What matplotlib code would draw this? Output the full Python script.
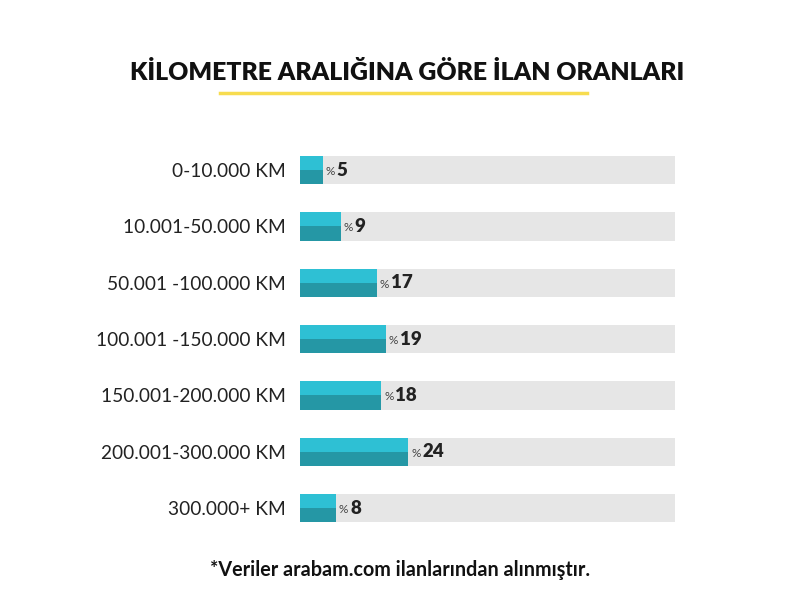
import matplotlib.pyplot as plt

# Kilometre ranges and listing shares (%)
categories = ["0-10.000 KM", "10.001-50.000 KM", "50.001 -100.000 KM",
              "100.001 -150.000 KM", "150.001-200.000 KM",
              "200.001-300.000 KM", "300.000+ KM"]
values = [5, 9, 17, 19, 18, 24, 8]
full_scale = 83

light = "#2ec0d4"
dark = "#2597a5"
track = "#e6e6e6"

fig = plt.figure(figsize=(8, 6), dpi=100)
ax = fig.add_axes([0.375, 0.1063, 0.46875, 0.657])

ys = list(range(len(values)))
h = 0.5
ax.barh(ys, [full_scale] * len(values), height=h, color=track, left=0)
ax.barh([y - h / 4 for y in ys], values, height=h / 2, color=light)
ax.barh([y + h / 4 for y in ys], values, height=h / 2, color=dark)

for y, v in zip(ys, values):
    ax.annotate("%", (v, y), xytext=(2, -1), textcoords="offset points",
                ha="left", va="center", fontsize=8.5, color="#444444",
                family="Lato")
    ax.annotate(str(v), (v, y), xytext=(10, 0), textcoords="offset points",
                ha="left", va="center", fontsize=13.5, fontweight="heavy",
                color="#222222", family="Lato")

ax.set_xlim(0, full_scale)
ax.set_ylim(len(values) - 0.5, -0.5)
ax.set_yticks(ys)
ax.set_yticklabels(categories, fontsize=13.8, family="Lato", color="#222222")
ax.tick_params(axis="y", length=0, pad=10)
ax.set_xticks([])
for s in ax.spines.values():
    s.set_visible(False)

fig.text(0.509, 0.88, "KİLOMETRE ARALIĞINA GÖRE İLAN ORANLARI", ha="center",
         va="center", fontsize=17.8, fontweight="heavy", family="Lato",
         color="#111111")
fig.add_artist(plt.Line2D([220 / 800, 587 / 800], [1 - 93 / 600, 1 - 93 / 600],
                          color="#f7dc4f", linewidth=2.5))
fig.text(0.5, 1 - 570 / 600, "*Veriler arabam.com ilanlarından alınmıştır.",
         ha="center", va="center", fontsize=14.2, fontweight="bold",
         family="Lato", color="#111111")

fig.savefig("out.png", dpi=100)
